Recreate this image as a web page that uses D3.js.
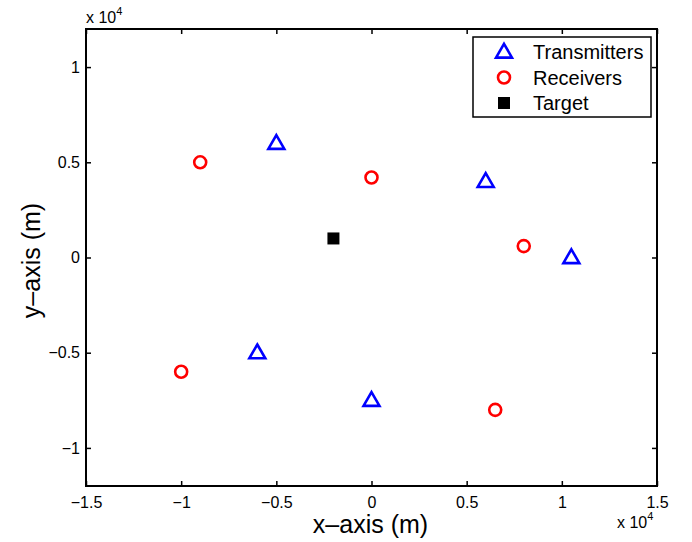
<!DOCTYPE html>
<html>
<head>
<meta charset="utf-8">
<script src="https://cdn.jsdelivr.net/npm/d3@7"></script>
<style>
  body { margin: 0; background: #fff; }
  svg { font-family: "Liberation Sans", Arial, sans-serif; }
</style>
</head>
<body>
<svg id="chart" width="692" height="542"></svg>
<script>
// positions in units of 1e4 m
var transmittersX = [-0.5, 0.6, 1.05, -0.6, 0];
var transmittersY = [0.6, 0.4, 0, -0.5, -0.75];
var receiversX = [-0.9, 0, 0.8, -1.0, 0.65];
var receiversY = [0.5, 0.42, 0.06, -0.6, -0.8];
var targetX = [-0.2];
var targetY = [0.1];

var xTicks = [-1.5, -1, -0.5, 0, 0.5, 1, 1.5];
var yTicks = [-1, -0.5, 0, 0.5, 1];
var legendLabels = ['Transmitters', 'Receivers', 'Target'];

var margin = {left: 86, top: 29, right: 35, bottom: 56},
    width = 692 - margin.left - margin.right,
    height = 542 - margin.top - margin.bottom;

var svg = d3.select('#chart');
var g = svg.append('g').attr('transform', 'translate(' + margin.left + ',' + margin.top + ')');

var x = d3.scaleLinear().domain([-1.5, 1.5]).range([0, width]);
var y = d3.scaleLinear().domain([-1.2, 1.2]).range([height, 0]);

function fmt(d) { return d < 0 ? '\u2212' + Math.abs(d) : String(d); }

function styleAxis(sel, showLabels) {
    sel.attr('font-size', 16).attr('font-family', '"Liberation Sans", Arial, sans-serif');
    sel.select('.domain').remove();
    sel.selectAll('.tick line').attr('stroke', '#000').attr('stroke-width', 1.5);
    sel.selectAll('.tick text').attr('fill', showLabels ? '#000' : 'none');
}

g.append('g').attr('transform', 'translate(0,' + height + ')')
    .call(d3.axisBottom(x).tickValues(xTicks).tickSize(-5).tickPadding(11).tickFormat(fmt))
    .call(styleAxis, true);
g.append('g')
    .call(d3.axisTop(x).tickValues(xTicks).tickSize(-5).tickFormat(''))
    .call(styleAxis, false);
g.append('g')
    .call(d3.axisLeft(y).tickValues(yTicks).tickSize(-5).tickPadding(6).tickFormat(fmt))
    .call(styleAxis, true);
g.append('g').attr('transform', 'translate(' + width + ',0)')
    .call(d3.axisRight(y).tickValues(yTicks).tickSize(-5).tickFormat(''))
    .call(styleAxis, false);

g.append('rect')
    .attr('width', width).attr('height', height)
    .attr('fill', 'none').attr('stroke', '#000').attr('stroke-width', 2);

var tri = d3.symbol().type(d3.symbolTriangle).size(110);

function drawTransmitter(sel) {
    sel.append('path').attr('d', tri)
        .attr('fill', 'none').attr('stroke', '#0000ff').attr('stroke-width', 2.6);
}
function drawReceiver(sel) {
    sel.append('circle').attr('r', 6)
        .attr('fill', 'none').attr('stroke', '#ff0000').attr('stroke-width', 2.6);
}
function drawTarget(sel) {
    sel.append('rect').attr('x', -6).attr('y', -6).attr('width', 12).attr('height', 12)
        .attr('fill', '#000');
}

g.selectAll('.tx').data(d3.range(transmittersX.length)).enter().append('g')
    .attr('transform', function(i) { return 'translate(' + x(transmittersX[i]) + ',' + (y(transmittersY[i]) + 1) + ')'; })
    .call(drawTransmitter);
g.selectAll('.rx').data(d3.range(receiversX.length)).enter().append('g')
    .attr('transform', function(i) { return 'translate(' + x(receiversX[i]) + ',' + y(receiversY[i]) + ')'; })
    .call(drawReceiver);
g.selectAll('.tg').data(d3.range(targetX.length)).enter().append('g')
    .attr('transform', function(i) { return 'translate(' + x(targetX[i]) + ',' + y(targetY[i]) + ')'; })
    .call(drawTarget);

// exponent labels
function expLabel(px, py) {
    var t = svg.append('text').attr('x', px).attr('y', py).style('font-size', '16px');
    t.append('tspan').text('x 10');
    t.append('tspan').attr('dy', -8).style('font-size', '11px').text('4');
}
expLabel(86, 23);
expLabel(617, 528);

// axis titles
svg.append('text')
    .attr('x', margin.left + width / 2 - 1).attr('y', 533)
    .attr('text-anchor', 'middle').style('font-size', '25px')
    .text('x\u2013axis (m)');
svg.append('text')
    .attr('transform', 'translate(40,' + (margin.top + height / 2 + 3) + ') rotate(-90)')
    .attr('text-anchor', 'middle').style('font-size', '25px')
    .text('y\u2013axis (m)');

// legend
var legend = svg.append('g').attr('transform', 'translate(473,37)');
legend.append('rect').attr('width', 178).attr('height', 80)
    .attr('fill', '#fff').attr('stroke', '#000').attr('stroke-width', 1.5);
var drawers = [drawTransmitter, drawReceiver, drawTarget];
legendLabels.forEach(function(label, i) {
    var row = legend.append('g').attr('transform', 'translate(0,' + (15 + i * 25.5) + ')');
    row.append('g').attr('transform', 'translate(31,' + (i === 0 ? 1 : 0) + ')').call(drawers[i]);
    row.append('text').attr('x', 60).attr('y', 7).style('font-size', '20px').text(label);
});
</script>
</body>
</html>
